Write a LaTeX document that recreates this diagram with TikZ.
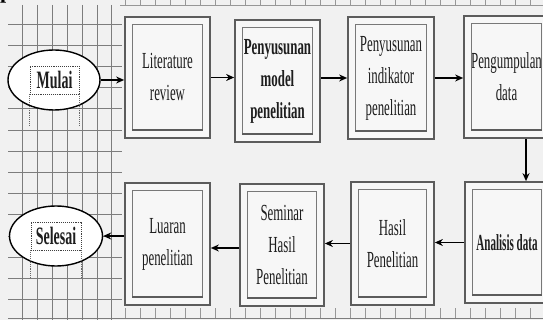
\documentclass[tikz,border=0pt]{standalone}
\usepackage{fontspec}
\usepackage{graphicx}
\setmainfont{Liberation Serif}
\newfontfamily\cond[FakeStretch=0.56]{Liberation Serif}
\usetikzlibrary{arrows.meta,calc,shapes.geometric}
\definecolor{bg}{RGB}{241,241,241}
\definecolor{framec}{RGB}{92,92,92}
\definecolor{innerc}{RGB}{120,120,120}
\definecolor{gridc}{RGB}{125,125,125}
\definecolor{fillc}{RGB}{247,247,247}
\definecolor{txtc}{RGB}{30,30,30}
\newcommand\flowbox[5]{%
  \node[outerbox,minimum width=#3,minimum height=#4] (#1) at (#2) {#5};
  \draw[innerframe] ($(#1.north west)+(8,8)$) rectangle ($(#1.south east)+(-8,-8)$);
  \draw[innerbottom] ($(#1.south west)+(8,-9)$) -- ($(#1.south east)+(-8,-9)$);
}
\begin{document}
\begin{tikzpicture}[x=1pt,y=-1pt,
  outerbox/.style={draw=framec,line width=1.7pt,fill=fillc,inner sep=0pt,align=center,
    text=txtc,font=\cond\fontsize{23}{32}\selectfont},
  innerframe/.style={draw=innerc,line width=1.1pt},
  innerbottom/.style={draw=framec,line width=1.8pt},
  gridline/.style={draw=gridc,line width=0.8pt},
  tickline/.style={draw=gridc!80,line width=0.6pt},
  flow/.style={draw=black,line width=1.7pt,-{Stealth[length=8pt,width=7pt]}},
  terminal/.style={ellipse,draw=black,line width=1.4pt,fill=white,minimum width=92,minimum height=60,inner sep=0pt},
  dotbox/.style={draw=black!75,densely dotted,line width=0.9pt,inner sep=0pt,text=txtc,
    font=\cond\bfseries\fontsize{25}{25}\selectfont},
  dotline/.style={draw=black!60,densely dotted,line width=0.9pt}]
\useasboundingbox (0,0) rectangle (543,320);
\fill[bg] (0,0) rectangle (543,320);
% grid on the left
\foreach \x in {22,37,52,67,82,97,111} \draw[gridline] (\x,5) -- (\x,320);
\foreach \k in {0,...,13} \draw[gridline] (8,{24+21.2*\k}) -- (122,{24+21.2*\k});
% rulers
\draw[tickline] (120,5) -- (543,5);
\foreach \x in {125,140,...,543} \draw[tickline] (\x,0) -- (\x,5);
\draw[gridline] (8,318) -- (543,318);
\foreach \x in {125,140,...,543} \draw[tickline] (\x,308) -- (\x,318);
% cropped letter at the corner
\node[anchor=base west,inner sep=0pt,font=\bfseries\fontsize{22}{22}\selectfont] (pfrag) at (0,-1) {p};
% boxes
\flowbox{lit}{167.5,77.5}{85}{121}{Literature\\review}
\flowbox{model}{277.5,81}{85}{122}{\textbf{Penyusunan}\\\textbf{model}\\\textbf{penelitian}}
\flowbox{ind}{391,78}{86}{122}{Penyusunan\\indikator\\penelitian}
\flowbox{peng}{506.5,77}{85}{122}{Pengumpulan\\data}
\flowbox{anal}{507,242.5}{84}{121}{\scalebox{0.86}[1]{\textbf{Analisis data}}}
\flowbox{hasil}{392.5,243.5}{83}{123}{Hasil\\Penelitian}
\flowbox{sem}{282,245}{84}{122}{Seminar\\Hasil\\Penelitian}
\flowbox{luar}{167.5,244}{85}{122}{Luaran\\penelitian}
% terminals
\node[terminal] (mulai) at (54,80) {};
\node[dotbox,minimum width=49,minimum height=28] (mtext) at (54.5,80) {Mulai};
\draw[dotline] (mtext.south west) -- ++(0,31);
\draw[dotline] (mtext.south east) -- ++(0,31);
\node[terminal,minimum width=93] (selesai) at (56,236) {};
\node[dotbox,minimum width=50,minimum height=28] (stext) at (56,236) {Selesai};
\draw[dotline] (stext.south west) -- ++(0,27);
\draw[dotline] (stext.south east) -- ++(0,27);
% connectors
\draw[flow] (mulai.east) -- (mulai.east -| lit.west);
\draw[flow] (lit.east) -- (lit.east -| model.west);
\draw[flow] (ind.west -| model.east) -- (ind.west);
\draw[flow] (ind.east) -- (ind.east -| peng.west);
\draw[flow] ([xshift=19.5pt]peng.south) -- ([xshift=19.5pt]peng.south |- anal.north);
\draw[flow] (anal.west) -- (anal.west -| hasil.east);
\draw[flow] (hasil.west) -- (hasil.west -| sem.east);
\draw[flow] ([yshift=-3pt]sem.west) -- ([yshift=-3pt]sem.west -| luar.east);
\draw[flow] (selesai.east -| luar.west) -- (selesai.east);
\end{tikzpicture}
\end{document}
